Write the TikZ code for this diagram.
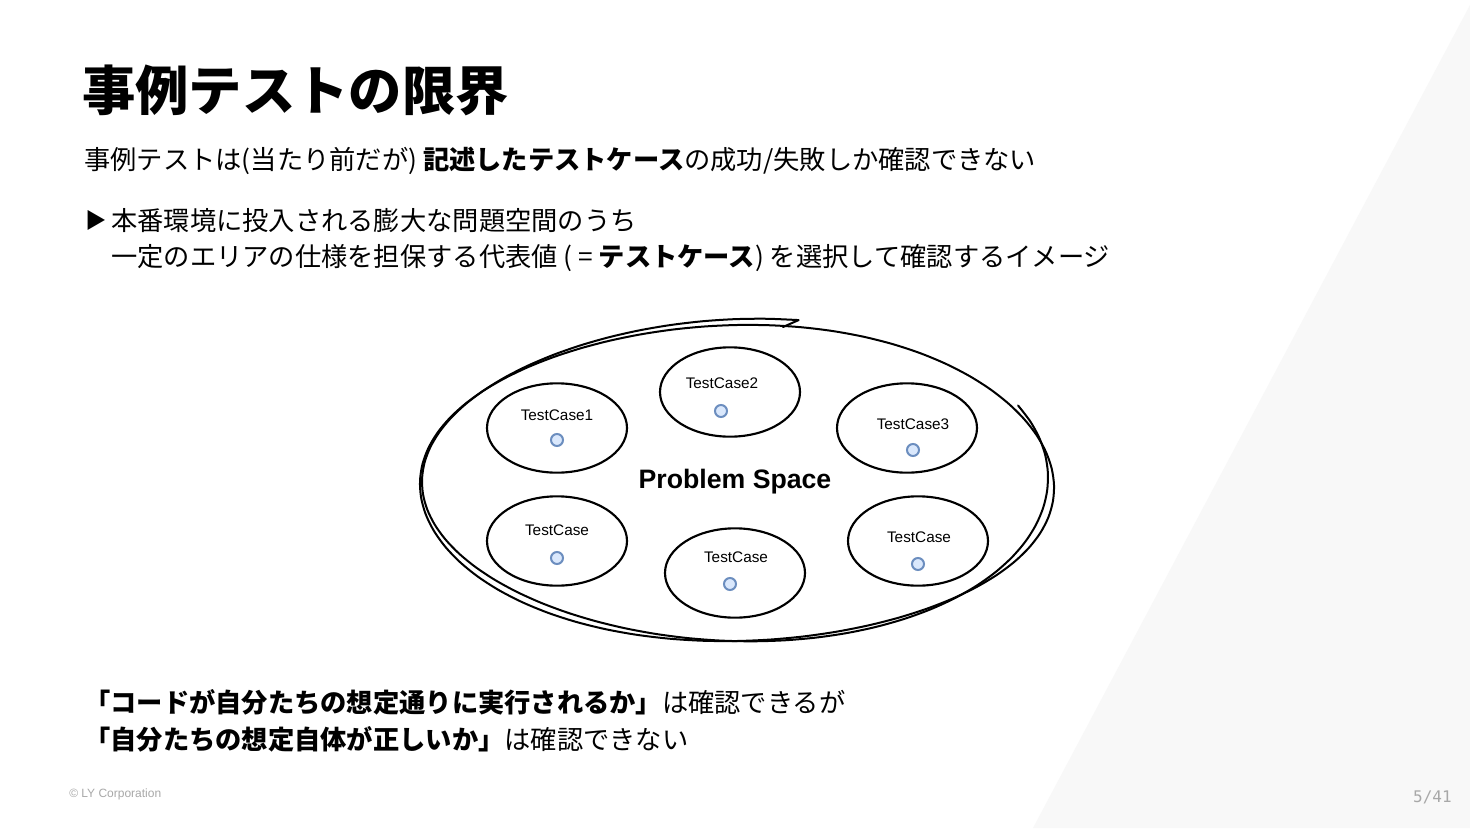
\documentclass[tikz,border=0pt]{standalone}
\usepackage{fontspec}
\setmainfont{Noto Sans CJK JP}
\newfontfamily\latinfont{Liberation Sans}
\newfontfamily\pagefont{DejaVu Sans Mono}
\usetikzlibrary{shapes.geometric}

\definecolor{bgtri}{HTML}{F8F8F8}
\definecolor{footgray}{HTML}{A8A8A8}
\definecolor{dotfill}{HTML}{DAE8FC}
\definecolor{dotline}{HTML}{6C8EBF}

\tikzset{
	testcase/.style={draw, ellipse, line width=1.6pt, minimum width=105pt, minimum height=67pt, inner sep=0pt},
	tclabel/.style={inner sep=0pt, font=\latinfont\fontsize{11.5}{13}\selectfont},
	tcdot/.style={circle, draw=dotline, fill=dotfill, line width=1.5pt, minimum size=9pt, inner sep=0pt},
	bodytext/.style={anchor=west, inner sep=0pt, font=\fontsize{19.7}{24}\selectfont},
	sketch/.style={line width=1.5pt, line join=round, line cap=round}
}

\begin{document}
\begin{tikzpicture}[x=0.75pt, y=-0.75pt]
		\fill[white] (0,0) rectangle (1470,828);
		\fill[bgtri] (1033,828) -- (1470,5) -- (1470,828) -- cycle;
		\useasboundingbox (0,0) rectangle (1470,828);

		\node[anchor=west, inner sep=0pt, font=\fontsize{40}{48}\selectfont\bfseries] (title) at (82,90) {事例テストの限界};
		\node[bodytext] (lead) at (84,161) {事例テストは(当たり前だが) {\bfseries 記述したテストケース}の成功/失敗しか確認できない};
		\node[anchor=west, inner sep=0pt, font=\fontsize{16}{18}\selectfont] (bullet) at (85,220) {▶};
		\node[bodytext] (point1) at (111,221) {本番環境に投入される膨大な問題空間のうち};
		\node[bodytext] (point2) at (111,258) {一定のエリアの仕様を担保する代表値 ( = {\bfseries テストケース}) を選択して確認するイメージ};

		\draw[sketch] plot[smooth cycle, domain=0:354, samples=60] ({737+317*cos(\x)+3*sin(2*\x)}, {483+158*sin(\x)+2*cos(3*\x)});
		\draw[sketch] plot[smooth, domain=-26:281, samples=53] ({735+313*cos(\x)-4*sin(\x)}, {480+161*sin(\x)+5*sin(2*\x)}) -- (783,327);

		\node[testcase] (tc1) at (557,428) {};
		\node[testcase] (tc2) at (730,392) {};
		\node[testcase] (tc3) at (907,428) {};
		\node[testcase] (tc4) at (557,541) {};
		\node[testcase] (tc5) at (735,573) {};
		\node[testcase] (tc6) at (918,541) {};

		\node[tclabel] (tc1label) at (557,415) {TestCase1};
		\node[tclabel] (tc2label) at (722,383) {TestCase2};
		\node[tclabel] (tc3label) at (913,424) {TestCase3};
		\node[tclabel] (tc4label) at (557,530) {TestCase};
		\node[tclabel] (tc5label) at (736,557) {TestCase};
		\node[tclabel] (tc6label) at (919,537) {TestCase};

		\node[tcdot] (tc1dot) at (557,440) {};
		\node[tcdot] (tc2dot) at (721,411) {};
		\node[tcdot] (tc3dot) at (913,450) {};
		\node[tcdot] (tc4dot) at (557,558) {};
		\node[tcdot] (tc5dot) at (730,584) {};
		\node[tcdot] (tc6dot) at (918,564) {};

		\node[inner sep=0pt, font=\latinfont\fontsize{20}{22}\selectfont\bfseries] (space) at (735,482) {Problem Space};

		\node[bodytext] (can) at (84,702) {{\bfseries 「コードが自分たちの想定通りに実行されるか」}は確認できるが};
		\node[bodytext] (cannot) at (84,739) {{\bfseries 「自分たちの想定自体が正しいか」}は確認できない};

		\node[anchor=west, inner sep=0pt, text=footgray, font=\latinfont\fontsize{9}{11}\selectfont] (corp) at (69,794) {© LY Corporation};
		\node[anchor=east, inner sep=0pt, text=footgray, font=\pagefont\fontsize{12}{14}\selectfont] (page) at (1452,797) {5/41};
	\end{tikzpicture}
\end{document}
